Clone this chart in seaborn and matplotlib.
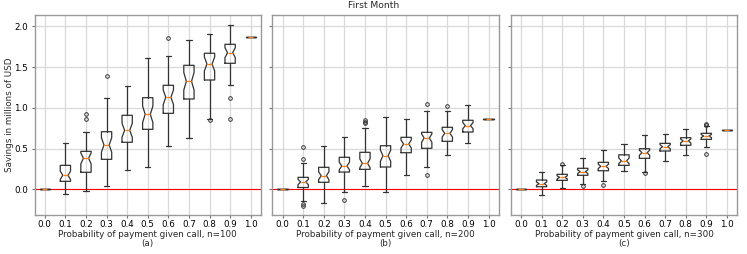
import numpy as np
import matplotlib
matplotlib.use("Agg")
import matplotlib.pyplot as plt
import seaborn as sns

probs = ["0.0", "0.1", "0.2", "0.3", "0.4", "0.5", "0.6", "0.7", "0.8", "0.9", "1.0"]
panel_labels = ["Probability of payment given call, n=100\n(a)",
                "Probability of payment given call, n=200\n(b)",
                "Probability of payment given call, n=300\n(c)"]

# Panel (a) n=100
a_whislo = [0.0, -0.054, -0.025, 0.045, 0.241, 0.277, 0.528, 0.626, 0.859, 1.276, 1.865]
a_q1     = [0.0, 0.098, 0.209, 0.368, 0.577, 0.736, 0.932, 1.108, 1.341, 1.546, 1.865]
a_med    = [0.0, 0.172, 0.380, 0.544, 0.724, 0.920, 1.129, 1.325, 1.537, 1.676, 1.865]
a_q3     = [0.0, 0.294, 0.466, 0.707, 0.908, 1.124, 1.276, 1.521, 1.669, 1.779, 1.865]
a_whishi = [0.0, 0.564, 0.699, 1.117, 1.271, 1.607, 1.632, 1.828, 1.902, 2.020, 1.865]
a_fliers = [[], [], [0.93, 0.862], [1.39], [], [], [1.853], [], [0.85], [1.124, 0.862], []]

# Panel (b) n=200
b_whislo = [0.0, -0.141, -0.164, -0.037, 0.037, -0.037, 0.179, 0.277, 0.417, 0.564, 0.862]
b_q1     = [0.0, 0.022, 0.086, 0.212, 0.245, 0.274, 0.449, 0.503, 0.589, 0.703, 0.862]
b_med    = [0.0, 0.090, 0.167, 0.286, 0.319, 0.412, 0.556, 0.629, 0.687, 0.781, 0.862]
b_q3     = [0.0, 0.147, 0.270, 0.393, 0.454, 0.535, 0.638, 0.699, 0.761, 0.847, 0.862]
b_whishi = [0.0, 0.317, 0.531, 0.638, 0.752, 0.883, 0.859, 0.965, 0.960, 1.031, 0.862]
b_fliers = [[], [0.525, 0.372, -0.18, -0.20], [], [-0.135], [0.847, 0.826, 0.81], [], [],
            [1.05, 0.172], [1.018], [], []]

# Panel (c) n=300
c_whislo = [0.0, -0.074, 0.012, 0.065, 0.106, 0.219, 0.209, 0.343, 0.417, 0.523, 0.724]
c_q1     = [0.0, 0.032, 0.110, 0.172, 0.228, 0.294, 0.380, 0.470, 0.540, 0.613, 0.724]
c_med    = [0.0, 0.069, 0.147, 0.216, 0.282, 0.349, 0.449, 0.523, 0.593, 0.654, 0.724]
c_q3     = [0.0, 0.114, 0.184, 0.258, 0.331, 0.423, 0.498, 0.564, 0.633, 0.687, 0.724]
c_whishi = [0.0, 0.209, 0.298, 0.388, 0.478, 0.562, 0.666, 0.683, 0.736, 0.780, 0.724]
c_fliers = [[], [], [0.315], [0.044], [0.053], [], [0.196], [], [], [0.805, 0.79, 0.429], []]

N_RUNS = 36  # estimated number of runs per box (sets notch width)

panels = [
    (a_whislo, a_q1, a_med, a_q3, a_whishi, a_fliers),
    (b_whislo, b_q1, b_med, b_q3, b_whishi, b_fliers),
    (c_whislo, c_q1, c_med, c_q3, c_whishi, c_fliers),
]

sns.set_theme(style="whitegrid", rc={
    "axes.edgecolor": "0.6",
    "axes.linewidth": 1.0,
    "grid.color": "0.85",
    "grid.linewidth": 0.9,
    "xtick.bottom": True,
    "ytick.left": True,
    "xtick.color": "0.45",
    "ytick.color": "0.45",
    "xtick.labelcolor": "black",
    "ytick.labelcolor": "black",
    "xtick.major.size": 2.5,
    "ytick.major.size": 2.5,
    "xtick.major.width": 0.8,
    "ytick.major.width": 0.8,
    "xtick.major.pad": 1.2,
    "ytick.major.pad": 2,
})
plt.rcParams["font.family"] = ["DejaVu Sans"]

fig = plt.figure(figsize=(7.47, 2.54), dpi=100)
W, H = 747.0, 254.0
lefts = [34.5, 272.3, 510.7]
axw = 226.5
top_px, bot_px = 14.7, 215.0
axes = []
for i, lx in enumerate(lefts):
    ax = fig.add_axes([lx / W, 1 - bot_px / H, axw / W, (bot_px - top_px) / H],
                      sharey=axes[0] if axes else None)
    axes.append(ax)

for i, (ax, (wlo, q1, med, q3, whi, fl)) in enumerate(zip(axes, panels)):
    ax.axhline(0, color="red", linestyle="-", linewidth=0.8, zorder=1.5)
    stats = []
    for k in range(len(probs)):
        iqr = q3[k] - q1[k]
        half = 1.57 * iqr / np.sqrt(N_RUNS)
        stats.append(dict(med=med[k], q1=q1[k], q3=q3[k], whislo=wlo[k], whishi=whi[k],
                          fliers=np.array(fl[k]), cilo=med[k] - half, cihi=med[k] + half,
                          label=probs[k]))
    ax.bxp(stats, positions=np.arange(1, len(probs) + 1), widths=0.5, shownotches=True,
           boxprops=dict(color="0.2", linewidth=0.9),
           whiskerprops=dict(color="0.2", linewidth=0.9),
           capprops=dict(color="0.2", linewidth=0.9),
           medianprops=dict(color="#ff7f0e", linewidth=0.9),
           flierprops=dict(marker="o", markersize=2.6, markerfacecolor="none",
                           markeredgecolor="0.2", markeredgewidth=0.7))
    ax.set_xlim(0.5, len(probs) + 0.5)
    ax.set_ylim(-0.315, 2.142)
    ax.set_yticks([0.0, 0.5, 1.0, 1.5, 2.0])
    ax.grid(True)
    ax.set_axisbelow(True)
    ax.tick_params(labelsize=6.3)
    ax.set_xlabel(panel_labels[i], fontsize=6.3, labelpad=0.5, linespacing=1.0)
    if i > 0:
        ax.tick_params(labelleft=False)

axes[0].set_ylabel("Savings in millions of USD", fontsize=6.3, labelpad=0)
fig.suptitle("First Month", fontsize=6.6, y=0.995)

fig.savefig("out.png", dpi=100)
